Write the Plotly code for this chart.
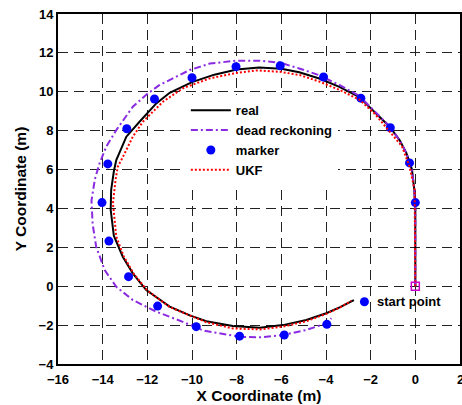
import plotly.graph_objects as go

# ---- data ----
real_x = [0, 0, 0, -0.05, -0.15, -0.4, -0.7, -1.15, -1.9, -2.5, -3.4, -4.3, -5.2, -6.0, -7.0, -8.0, -9.0, -10.0,
          -11.0, -11.6, -12.35, -12.94, -13.39, -13.5, -13.62, -13.64, -13.5, -13.1, -12.65, -12.05, -11.0,
          -10.1, -9.36, -8.17, -6.97, -5.93, -4.88, -3.99, -3.39, -2.75]
real_y = [0, 2, 4, 5, 6, 6.85, 7.5, 8.2, 9.05, 9.72, 10.25, 10.68, 11.0, 11.18, 11.25, 11.15, 10.88, 10.5,
          9.95, 9.4, 8.46, 7.69, 6.49, 5.9, 4.95, 3.92, 2.6, 1.52, 0.66, -0.2, -1.05,
          -1.5, -1.8, -2.05, -2.13, -2.0, -1.74, -1.39, -1.09, -0.72]

dr_x = [0, 0, 0, -0.05, -0.15, -0.4, -0.7, -1.15, -1.9, -2.5, -3.4, -4.3, -5.2, -6.07, -7.0, -8.0, -9.2,
        -10.1, -11.45, -12.05, -12.65, -13.39, -13.84, -14.14, -14.35, -14.5, -14.45, -14.29, -13.91, -13.39,
        -12.65, -11.6, -10.41, -9.5, -7.87, -6.97, -5.93, -4.88, -3.99, -3.76]
dr_y = [0, 2, 4, 5, 6, 6.85, 7.5, 8.22, 9.1, 9.78, 10.35, 10.85, 11.2, 11.5, 11.6, 11.6, 11.45,
        11.12, 10.35, 9.85, 9.23, 8.03, 7.18, 6.32, 5.5, 4.4, 3.2, 2.03, 0.83, -0.03,
        -0.71, -1.31, -1.83, -2.28, -2.6, -2.63, -2.51, -2.25, -1.91, -1.65]

ukf_x = [0, 0, 0, -0.03, -0.26, -0.6, -1.15, -1.8, -2.49, -3.4, -4.29, -5.18, -6.07, -7.12, -8.0, -9.21,
         -10.41, -11.3, -12.2, -12.65, -13.09, -13.32, -13.42, -13.54, -13.39, -13.05, -12.62, -12.02, -11.0,
         -10.1, -9.36, -8.17, -6.97, -5.93, -4.88, -3.99, -3.39, -2.87]
ukf_y = [0, 2, 4, 4.95, 6.15, 7.2, 7.95, 8.85, 9.58, 10.1, 10.52, 10.86, 11.03, 11.1, 10.97, 10.69,
         10.18, 9.49, 8.46, 7.69, 6.66, 6.15, 5.5, 4.26, 2.55, 1.52, 0.66, -0.2, -1.07,
         -1.52, -1.85, -2.17, -2.22, -2.08, -1.8, -1.42, -1.1, -0.75]

marker_x = [0, -0.26, -1.12, -2.44, -4.11, -6.05, -8.03, -10.0, -11.68, -12.92, -13.77, -14.03,
            -13.72, -12.84, -11.54, -9.81, -7.87, -5.87, -3.96]
marker_y = [4.3, 6.34, 8.15, 9.67, 10.76, 11.34, 11.29, 10.72, 9.63, 8.10, 6.29, 4.30,
            2.32, 0.49, -1.02, -2.08, -2.57, -2.51, -1.96]

start_x = [0]
start_y = [0]
note_x = [-2.28]
note_y = [-0.80]
note_text = "start point"

x_ticks = [-16, -14, -12, -10, -8, -6, -4, -2, 0, 2]
y_ticks = [-4, -2, 0, 2, 4, 6, 8, 10, 12, 14]

FONT = "Liberation Sans"

fig = go.Figure()
fig.add_trace(go.Scatter(x=real_x, y=real_y, mode="lines", name="real",
                         line=dict(color="black", width=2)))
fig.add_trace(go.Scatter(x=dr_x, y=dr_y, mode="lines", name="dead reckoning",
                         line=dict(color="#8a2be2", width=2, dash="7px,3px,2px,3px")))
fig.add_trace(go.Scatter(x=marker_x, y=marker_y, mode="markers", name="marker",
                         marker=dict(color="#0000ff", size=9)))
fig.add_trace(go.Scatter(x=ukf_x, y=ukf_y, mode="lines", name="UKF",
                         line=dict(color="#ff0000", width=2, dash="2px,2px")))
fig.add_trace(go.Scatter(x=start_x, y=start_y, mode="markers", showlegend=False,
                         marker=dict(symbol="square-open", color="#cc00cc", size=8,
                                     line=dict(width=1.5))))
fig.add_trace(go.Scatter(x=note_x, y=note_y, mode="markers", showlegend=False,
                         marker=dict(color="#0000ff", size=9)))
fig.add_annotation(x=note_x[0], y=note_y[0], text=note_text, showarrow=False,
                   xanchor="left", yanchor="middle", xshift=11,
                   font=dict(family=FONT, size=13, color="black", weight="bold"))

axis_common = dict(
    showgrid=True, gridcolor="#222222", gridwidth=1, griddash="10px,6px",
    showline=True, linecolor="black", linewidth=2, mirror=True,
    zeroline=False, ticks="", automargin=False,
    tickfont=dict(family=FONT, size=13, color="black", weight="bold"),
)

fig.update_xaxes(range=[-16, 2], tickvals=x_ticks, ticklabelstandoff=2,
                 title=dict(text="X Coordinate (m)", font=dict(family=FONT, size=15.5, color="black", weight="bold"),
                            standoff=4),
                 **axis_common)
fig.update_yaxes(range=[-4, 14], tickvals=y_ticks,
                 title=dict(text="Y Coordinate (m)", font=dict(family=FONT, size=15.5, color="black", weight="bold"),
                            standoff=8),
                 **axis_common)

# the last x tick label sits on the right edge (partly cut, as in the reference)
fig.add_annotation(x=x_ticks[-1], y=0, xref="x", yref="paper", yanchor="top", yshift=-6,
                   text=str(x_ticks[-1]), showarrow=False,
                   font=dict(family=FONT, size=13, color="black", weight="bold"))

fig.update_layout(
    width=462, height=405,
    margin=dict(l=58, r=2, t=14, b=41),
    plot_bgcolor="white", paper_bgcolor="white",
    legend=dict(x=0.318, y=0.768, xanchor="left", yanchor="top",
                bgcolor="white", borderwidth=0,
                font=dict(family=FONT, size=13, color="black", weight="bold"),
                itemwidth=40),
)

fig.write_html("out.html", config={"displayModeBar": False},
               post_script="document.body.style.margin='0';document.body.style.overflow='hidden';")
